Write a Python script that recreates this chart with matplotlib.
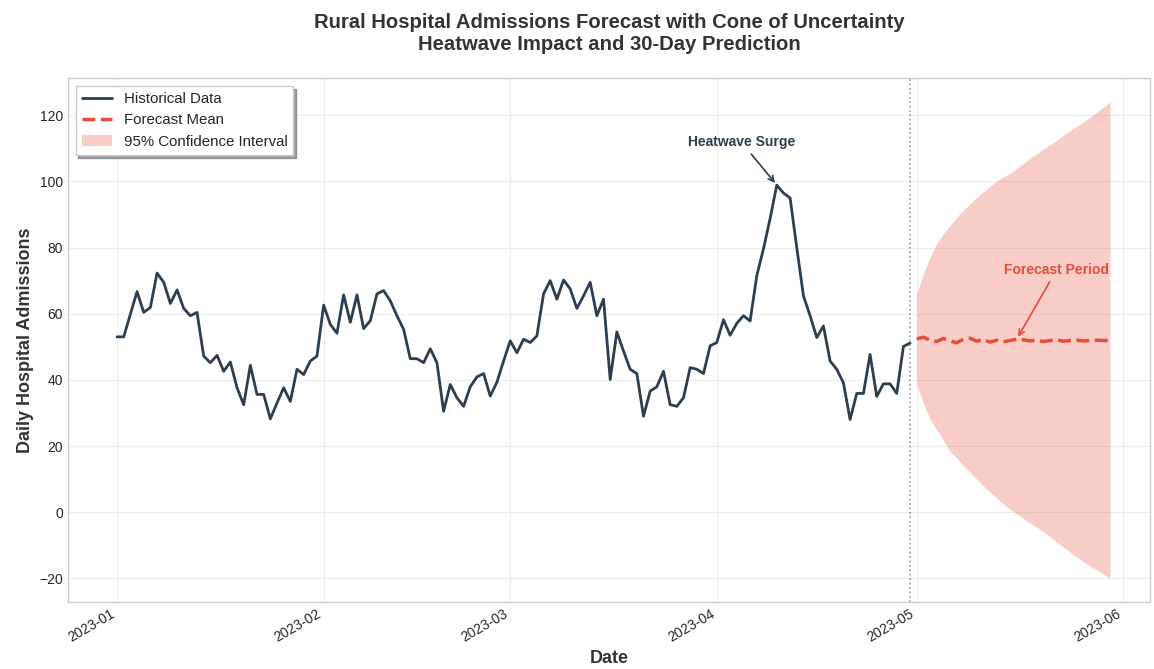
import matplotlib.pyplot as plt
import matplotlib.dates as mdates
import pandas as pd

plt.style.use('seaborn-v0_8-whitegrid')
plt.rcParams['font.family'] = ['Liberation Sans', 'DejaVu Sans']

# daily admissions, 2023-01-01 .. 2023-04-30
admissions = [
    53.0, 53.0, 59.9, 66.7, 60.4, 61.9, 72.3, 69.5, 63.1, 67.2,
    61.6, 59.4, 60.4, 47.2, 45.2, 47.4, 42.6, 45.4, 37.6, 32.5,
    44.4, 35.6, 35.6, 28.2, 33.0, 37.6, 33.5, 43.2, 41.6, 45.7,
    47.2, 62.6, 56.8, 54.1, 65.7, 57.4, 65.7, 55.5, 57.9, 66.0,
    67.0, 63.9, 59.4, 55.3, 46.4, 46.4, 45.2, 49.4, 45.2, 30.5,
    38.6, 34.6, 32.0, 37.9, 40.9, 41.9, 35.1, 39.3, 45.7, 51.8,
    48.2, 52.3, 51.3, 53.3, 66.0, 70.0, 64.4, 70.2, 67.5, 61.6,
    65.4, 69.5, 59.4, 64.4, 40.1, 54.5, 48.7, 43.2, 41.9, 29.0,
    36.6, 37.9, 42.6, 32.5, 32.0, 34.6, 43.7, 43.2, 41.9, 50.3,
    51.3, 58.2, 53.5, 57.1, 59.4, 57.8, 71.5, 79.6, 88.8, 98.9,
    96.5, 95.0, 80.0, 65.4, 59.4, 52.8, 56.3, 45.7, 43.2, 39.1,
    28.0, 35.9, 35.9, 47.7, 35.0, 38.8, 38.8, 35.9, 50.1, 51.1,
]

# 30-day forecast starting 2023-05-01
forecast_mean = [
    52.4, 52.9, 52.0, 51.6, 52.5, 51.8, 51.2, 52.3, 52.6, 51.7,
    52.2, 51.4, 52.0, 51.5, 51.9, 52.3, 52.1, 51.8, 52.0, 51.6,
    51.9, 52.1, 51.7, 51.9, 52.0, 51.8, 51.9, 52.0, 51.9, 51.9,
]
upper_95 = [
    66.0, 72.0, 77.1, 81.2, 84.2, 86.7, 89.1, 91.2, 93.2, 95.1,
    96.9, 98.6, 100.1, 101.4, 102.4, 104.0, 105.4, 107.0, 108.4, 109.8,
    111.1, 112.4, 113.9, 115.3, 116.6, 117.9, 119.4, 120.9, 122.5, 124.0,
]
lower_95 = [
    38.5, 33.0, 28.0, 25.0, 21.7, 18.4, 16.4, 14.0, 12.1, 10.0,
    8.0, 6.0, 4.3, 2.4, 1.0, -0.5, -1.9, -3.3, -4.6, -5.9,
    -7.4, -9.0, -10.5, -12.1, -13.5, -15.0, -16.3, -17.5, -18.7, -20.0,
]

hist_dates = pd.date_range('2023-01-01', periods=len(admissions), freq='D')
fc_dates = pd.date_range(hist_dates[-1] + pd.Timedelta(days=1),
                         periods=len(forecast_mean), freq='D')

fig, ax = plt.subplots(figsize=(11.54, 6.69), dpi=100)
fig.subplots_adjust(left=0.059, right=0.9965, top=0.883, bottom=0.1)

ax.plot(hist_dates, admissions, color='#2c3e50', lw=2, label='Historical Data')
ax.plot(fc_dates, forecast_mean, color='#e74c3c', lw=2.5, ls='--',
        label='Forecast Mean')
ax.fill_between(fc_dates, lower_95, upper_95, color='#e74c3c', alpha=0.28,
                lw=0, label='95% Confidence Interval')

ax.axvline(hist_dates[-1], color='gray', ls=':', lw=1.2, alpha=0.8)

peak = admissions.index(max(admissions))
ax.annotate('Heatwave Surge', xy=(hist_dates[peak], admissions[peak]),
            xytext=(hist_dates[peak] - pd.Timedelta(days=5.3), admissions[peak] + 13),
            ha='center', va='center', fontsize=10, fontweight='bold', color='#2c3e50',
            arrowprops=dict(arrowstyle='->', color='#2c3e50', lw=1.2))

ax.annotate('Forecast Period', xy=(fc_dates[15], forecast_mean[15]),
            xytext=(fc_dates[21], 73.3),
            ha='center', va='center', fontsize=10, fontweight='bold', color='#e74c3c',
            arrowprops=dict(arrowstyle='->', color='#e74c3c', lw=1.2))

ax.set_title('Rural Hospital Admissions Forecast with Cone of Uncertainty\n'
             'Heatwave Impact and 30-Day Prediction',
             fontsize=14.6, fontweight='bold', color='#333333', pad=20)
ax.set_xlabel('Date', fontsize=13, fontweight='bold', color='#333333')
ax.set_ylabel('Daily Hospital Admissions', fontsize=13, fontweight='bold', color='#333333')

ax.set_xlim(hist_dates[0] - pd.Timedelta(days=7.35), fc_dates[-1] + pd.Timedelta(days=6))
ax.xaxis.set_major_locator(mdates.MonthLocator())
ax.xaxis.set_major_formatter(mdates.DateFormatter('%Y-%m'))
plt.setp(ax.get_xticklabels(), rotation=30, ha='right')
ax.tick_params(labelsize=10)

ax.grid(True, color='#e6e6e6', lw=0.8, alpha=0.7)
for s in ax.spines.values():
    s.set_visible(True)
    s.set_color('#cccccc')

ax.legend(loc='upper left', frameon=True, shadow=True, fancybox=False,
          fontsize=10.8, facecolor='white', edgecolor='#cccccc', framealpha=1)

fig.savefig('out.png', dpi=100)
